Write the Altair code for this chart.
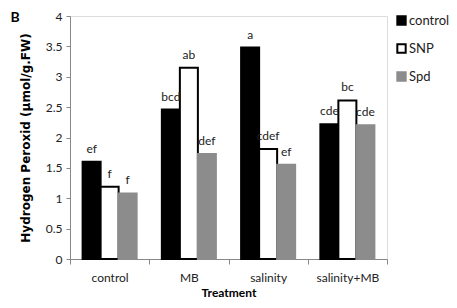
import altair as alt
import pandas as pd

treatments = ["control", "MB", "salinity", "salinity+MB"]
series = ["control", "SNP", "Spd"]
vals_control = [1.6, 2.46, 3.48, 2.22]
vals_snp = [1.19, 3.15, 1.81, 2.61]
vals_spd = [1.08, 1.73, 1.55, 2.2]
let_control = ["ef", "bcd", "a", "cde"]
let_snp = ["f", "ab", "cdef", "bc"]
let_spd = ["f", "def", "ef", "cde"]

rows = []
for s, vals, lets in zip(series, [vals_control, vals_snp, vals_spd], [let_control, let_snp, let_spd]):
    for t, v, l in zip(treatments, vals, lets):
        rows.append({"Treatment": t, "series": s, "value": v, "letter": l})
df = pd.DataFrame(rows)

FONT = "Lato"

x = alt.X("Treatment:N", sort=treatments, title="Treatment",
          scale=alt.Scale(paddingInner=0, paddingOuter=0),
          axis=alt.Axis(labelAngle=0, tickBand="extent", tickSize=5, labelPadding=8,
                        titlePadding=4, titleFontWeight="bold", titleFontSize=12,
                        labelFontSize=12, domainColor="#888888", tickColor="#888888",
                        labelColor="#222222", titleColor="#000000"))
xo = alt.XOffset("series:N", sort=series, scale=alt.Scale(paddingInner=0, paddingOuter=0.7))
y = alt.Y("value:Q", title="Hydrogen Peroxid (µmol/g.FW)",
          scale=alt.Scale(domain=[0, 4]),
          axis=alt.Axis(values=[0, 0.5, 1, 1.5, 2, 2.5, 3, 3.5, 4], format="~g", grid=False,
                        tickSize=4, labelPadding=4, titlePadding=13, titleFontWeight="bold",
                        titleFontSize=12, titleFont="DejaVu Sans", labelFontSize=12,
                        domainColor="#888888", tickColor="#888888", labelColor="#222222",
                        titleColor="#000000"))

legend = alt.Legend(title=None, orient="none", legendX=325, legendY=-2,
                    symbolType="square", symbolSize=70, symbolStrokeWidth=2,
                    labelFontSize=13, labelFont=FONT, rowPadding=11, labelColor="#222222",
                    labelOffset=1)

bars = alt.Chart(df).mark_bar(strokeWidth=2).encode(
    x=x, xOffset=xo, y=y,
    fill=alt.Fill("series:N", sort=series,
                  scale=alt.Scale(domain=series, range=["#000000", "#ffffff", "#8c8c8c"]),
                  legend=legend),
    stroke=alt.Stroke("series:N", sort=series,
                      scale=alt.Scale(domain=series, range=["#000000", "#000000", "#8c8c8c"]),
                      legend=legend),
)

labels = alt.Chart(df).mark_text(baseline="alphabetic", dy=-9, fontSize=12, font=FONT,
                                 color="#222222").encode(
    x=x, xOffset=xo, y=y, text="letter:N")

blabel = alt.Chart(pd.DataFrame({"t": ["B"]})).mark_text(
    fontSize=14, fontWeight="bold", font=FONT, color="#000000", align="center",
    baseline="middle").encode(x=alt.value(-55), y=alt.value(2), text="t:N")

chart = alt.layer(bars, labels, blabel).properties(
    width=317, height=243,
    autosize=alt.AutoSizeParams(type="none"),
    padding={"left": 62, "top": 8, "right": 62, "bottom": 40},
).configure_view(stroke=None).configure(font=FONT)

chart.save("out.html", embed_options={"renderer": "svg", "actions": False})
